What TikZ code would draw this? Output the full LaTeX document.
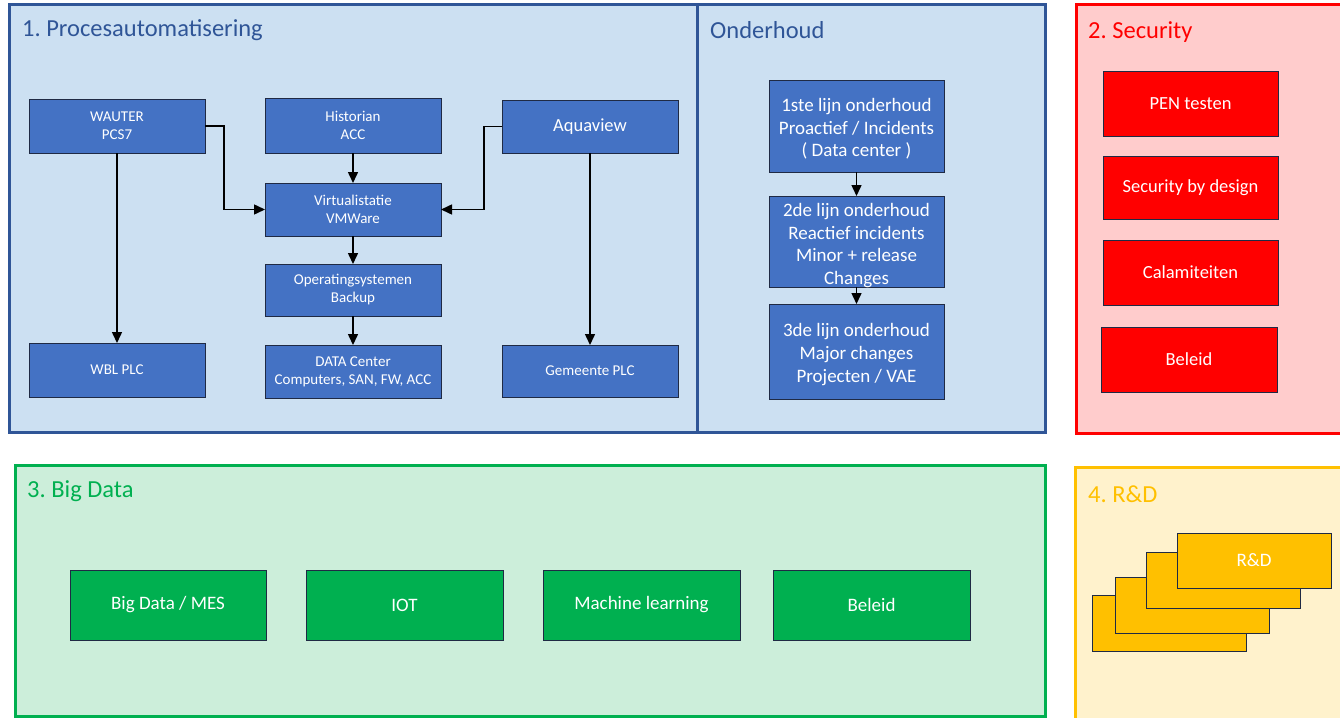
\documentclass[tikz,border=0pt]{standalone}
\usepackage{fontspec}
\setmainfont{Carlito}
\usetikzlibrary{arrows.meta}
\frenchspacing
\definecolor{pblue}{HTML}{2F5597}
\definecolor{pbluefill}{HTML}{CCE0F2}
\definecolor{bblue}{HTML}{4472C4}
\definecolor{bedge}{HTML}{1F2A44}
\definecolor{sred}{HTML}{FF0000}
\definecolor{sredfill}{HTML}{FFCCCC}
\definecolor{ggreen}{HTML}{00B050}
\definecolor{ggreenfill}{HTML}{CCEEDA}
\definecolor{yyel}{HTML}{FFC000}
\definecolor{yyelfill}{HTML}{FFF2CC}
\tikzset{
  panel/.style={rectangle, line width=3pt, inner sep=0pt, outer sep=0pt},
  ptitle/.style={anchor=west, inner sep=0pt, font=\fontsize{24.5}{28}\selectfont},
  box/.style={rectangle, draw=bedge, line width=1pt, text=white, align=center, inner sep=0pt, outer sep=0pt},
  bluebox/.style={box, fill=bblue, font=\fontsize{15}{18}\selectfont},
  ondbox/.style={box, fill=bblue},
  ondtext/.style={text=white, align=center, inner sep=0pt, font=\fontsize{19}{22.7}\selectfont},
  redbox/.style={box, fill=sred, font=\fontsize{18.5}{22}\selectfont},
  greenbox/.style={box, fill=ggreen, font=\fontsize{19}{22}\selectfont},
  yelbox/.style={box, fill=yyel, font=\fontsize{19}{22}\selectfont},
  arr/.style={line width=1.5pt, -{Triangle[width=10pt,length=11pt]}}
}
\begin{document}
\begin{tikzpicture}[x=1pt,y=-1pt]
\useasboundingbox (0,0) rectangle (1340,717);
% panels
\node[panel, draw=pblue, fill=pbluefill, minimum width=688pt, minimum height=427pt] (p1) at (353,218.5) {};
\node[panel, draw=pblue, fill=pbluefill, minimum width=348pt, minimum height=427pt] (p1b) at (871,218.5) {};
\node[panel, draw=sred, fill=sredfill, minimum width=280pt, minimum height=428pt] (p2) at (1216,219) {};
\node[panel, draw=ggreen, fill=ggreenfill, minimum width=1030pt, minimum height=251pt] (p3) at (530,590.5) {};
\node[panel, draw=yyel, fill=yyelfill, minimum width=280pt, minimum height=260pt] (p4) at (1215,597) {};
% titles
\node[ptitle, text=pblue] (t1) at (22,30) {1. Procesautomatisering};
\node[ptitle, text=pblue] (t1b) at (710,30) {Onderhoud};
\node[ptitle, text=sred] (t2) at (1088,32) {2. Security};
\node[ptitle, text=ggreen] (t3) at (27,491) {3. Big Data};
\node[ptitle, text=yyel] (t4) at (1088,494) {4. R\&D};
% panel 1 boxes
\node[bluebox, minimum width=176pt, minimum height=54pt] (wauter) at (117,126) {WAUTER\\PCS7};
\node[bluebox, minimum width=176pt, minimum height=55pt] (hist) at (353,125.5) {Historian\\ACC};
\node[bluebox, minimum width=176pt, minimum height=53pt, font=\fontsize{18.5}{20}\selectfont] (aqua) at (590,126.5) {Aquaview};
\node[bluebox, minimum width=176pt, minimum height=53pt] (vm) at (353,209.5) {Virtualistatie\\VMWare};
\node[bluebox, minimum width=176pt, minimum height=52pt] (os) at (353,290) {Operatingsystemen\\Backup};
\node[bluebox, minimum width=176pt, minimum height=53pt] (dc) at (353,371.5) {DATA Center\\Computers, SAN, FW, ACC};
\node[bluebox, minimum width=176pt, minimum height=54pt] (wbl) at (117,370) {WBL PLC};
\node[bluebox, minimum width=176pt, minimum height=52pt] (gem) at (590,371) {Gemeente PLC};
% panel 1 connectors
\draw[arr] (wauter.east) -- ++(19,0) |- (vm.west);
\draw[arr] (aqua.west) -- ++(-18,0) |- (vm.east);
\draw[arr] (hist) -- (vm);
\draw[arr] (vm) -- (os);
\draw[arr] (os) -- (dc);
\draw[arr] (wauter) -- (wbl);
\draw[arr] (aqua) -- (gem);
% onderhoud
\node[ondbox, minimum width=175pt, minimum height=92pt] (l1) at (856.5,126) {};
\node[ondbox, minimum width=175pt, minimum height=91pt] (l2) at (856.5,241.5) {};
\node[ondbox, minimum width=175pt, minimum height=95pt] (l3) at (856.5,351.5) {};
\node[ondtext] (l1t) at ([yshift=-3pt]l1.center) {1ste lijn onderhoud\\Proactief / Incidents\\( Data center )};
\node[ondtext] (l2t) at ([yshift=-4pt]l2.center) {2de lijn onderhoud\\Reactief incidents\\Minor + release\\Changes};
\node[ondtext] (l3t) at ([yshift=-3pt]l3.center) {3de lijn onderhoud\\Major changes\\Projecten / VAE};
\draw[arr] (l1) -- (l2);
\draw[arr] (l2) -- (l3);
% security
\node[redbox, minimum width=175pt, minimum height=65pt] (pen) at (1190.5,103.5) {PEN testen};
\node[redbox, minimum width=175pt, minimum height=63pt] (sbd) at (1190.5,187.5) {Security by design};
\node[redbox, minimum width=175pt, minimum height=65pt] (cal) at (1190.5,272.5) {Calamiteiten};
\node[redbox, minimum width=176pt, minimum height=65pt] (bel) at (1189,359.5) {Beleid};
% big data
\node[greenbox, minimum width=196pt, minimum height=70pt] (bd) at (168,605) {Big Data / MES};
\node[greenbox, minimum width=197pt, minimum height=70pt] (iot) at (404.5,605) {IOT};
\node[greenbox, minimum width=197pt, minimum height=70pt] (ml) at (641.5,605) {Machine learning};
\node[greenbox, minimum width=197pt, minimum height=70pt] (bel2) at (871.5,605) {Beleid};
% R&D
\node[yelbox, minimum width=154pt, minimum height=56pt] (r1) at (1169,623) {};
\node[yelbox, minimum width=154pt, minimum height=56pt] (r2) at (1192,605) {};
\node[yelbox, minimum width=154pt, minimum height=56pt] (r3) at (1223,580) {};
\node[yelbox, minimum width=154pt, minimum height=55pt] (r4) at (1254,560.5) {R\&D};
\end{tikzpicture}
\end{document}
